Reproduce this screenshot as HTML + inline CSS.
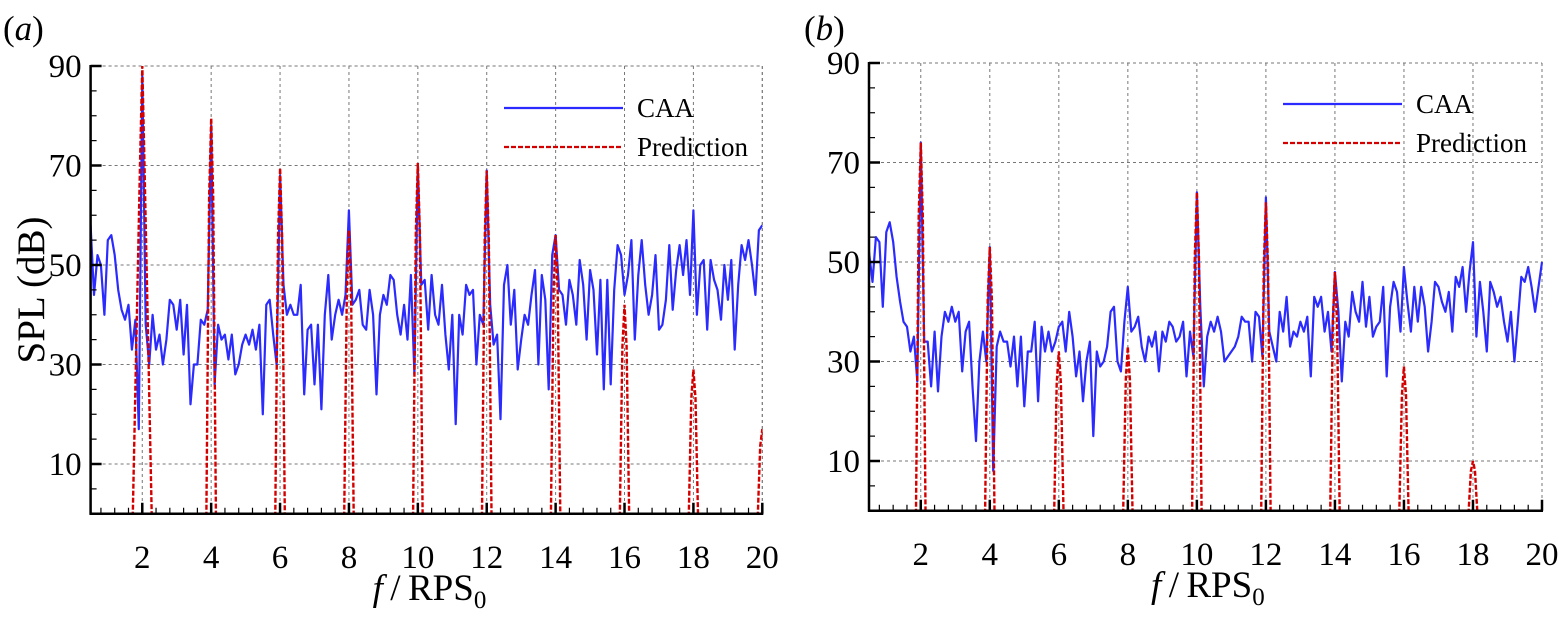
<!DOCTYPE html>
<html><head><meta charset="utf-8">
<style>
html,body{margin:0;padding:0;background:#fff;}
svg{display:block;font-family:"Liberation Serif",serif;}
</style></head>
<body>
<svg id="chart" width="1559" height="617" viewBox="0 0 1559 617" xmlns="http://www.w3.org/2000/svg">
<defs>
<clipPath id="clipA"><rect x="90.6" y="60" width="672" height="454"/></clipPath>
<clipPath id="clipB"><rect x="869" y="56" width="674" height="455"/></clipPath>
</defs>
</svg>
<script>
// ---- data ----
const xTickLabels = [2,4,6,8,10,12,14,16,18,20];
const yTickLabels = [10,30,50,70,90];
const freqStart = 0.5;
const freqStep = 0.1;
const caaA = [
58,44,52,50,40,55,56,52,45,41,
39,42,33,39,17,88,38,30,40,33,
36,30,35,43,42,37,43,32,42,22,
30,30,39,38,41,78,26,38,35,36,
31,36,28,30,34,36,34,37,33,38,
20,42,43,36,30,68,46,40,42,40,
40,46,24,37,38,26,38,21,40,48,
35,40,43,40,44,61,42,43,45,38,
37,45,40,24,40,44,42,48,47,40,
36,42,35,48,28,70,46,47,37,48,
40,38,46,36,29,40,18,40,36,46,
44,45,30,40,38,69,42,34,36,19,
46,50,38,45,29,35,40,38,44,49,
30,48,43,25,52,56,45,44,38,47,
44,38,51,46,35,49,45,32,47,25,
47,26,45,54,52,44,48,55,35,48,
55,46,40,44,52,37,38,43,54,41,
49,54,48,55,44,61,40,50,51,37,
51,47,45,39,50,43,51,33,46,54,
51,55,50,44,57,58];
const caaB = [
52,46,55,54,41,56,58,54,47,42,
38,37,32,35,26,74,34,34,25,36,
24,35,40,38,41,38,40,28,36,38,
25,14,30,36,30,53,8,33,36,34,
34,29,35,25,35,21,32,32,38,22,
37,32,36,32,34,37,38,32,40,35,
27,32,22,30,34,15,32,29,30,33,
40,41,30,28,38,45,36,37,39,33,
30,35,33,36,28,36,34,38,37,34,
35,38,27,36,31,64,41,25,35,38,
36,39,36,30,31,32,33,35,39,38,
38,30,40,39,31,63,36,33,30,40,
36,43,33,36,35,38,36,39,27,43,
41,43,36,40,32,48,40,26,38,35,
44,40,38,46,37,43,35,37,38,45,
27,41,46,44,36,49,42,36,45,38,
45,41,32,38,46,45,42,40,44,36,
47,45,49,40,48,54,35,46,40,32,
46,44,41,43,38,34,40,30,38,47,
46,49,45,40,45,50];
const predHarmonicsA = [2,4,6,8,10,12,14,16,18,20];
const predPeaksA = [90,79.5,69.5,57,70.5,69,56,42,29,17];
const predHarmonicsB = [2,4,6,8,10,12,14,16,18];
const predPeaksB = [74,53,32,33,64,62,48,29,10];

const NS = "http://www.w3.org/2000/svg";
const svg = document.getElementById('chart');
function mk(tag, attrs, parent){
  const e = document.createElementNS(NS, tag);
  for (const k in attrs) e.setAttribute(k, attrs[k]);
  (parent||svg).appendChild(e); return e;
}

function panel(cfg){
  const {left, right, top, bottom, letter, caa, harm, peaks, clip, legX, legY, leftW} = cfg;
  const xMin = 0.5, xMax = 20, yMin = 0, yMax = 90;
  const sx = v => left + (v - xMin) / (xMax - xMin) * (right - left);
  const sy = v => bottom - (v - yMin) / (yMax - yMin) * (bottom - top);
  const g = mk('g', {});
  
  

  for (const t of xTickLabels){
    const l = mk('line', {x1:sx(t), x2:sx(t), y1:top, y2:bottom, stroke:'#777', 'stroke-width':1, 'stroke-dasharray':'3,3'}, g);
    
    
  }
  for (const t of yTickLabels){
    const l = mk('line', {x1:left, x2:right, y1:sy(t), y2:sy(t), stroke:'#777', 'stroke-width':1, 'stroke-dasharray':'3,3'}, g);
    
    
  }
  const tb = mk('line', {x1:left, x2:right, y1:top, y2:top, stroke:'#777', 'stroke-width':1, 'stroke-dasharray':'3,3'}, g);
  
  
  const rb = mk('line', {x1:right, x2:right, y1:top, y2:bottom, stroke:'#777', 'stroke-width':1, 'stroke-dasharray':'3,3'}, g);
  
  

  const sg = mk('g', {'clip-path':'url(#'+clip+')'}, g);
  const pts = caa.map((v,i) => sx(freqStart + i*freqStep).toFixed(1) + ',' + sy(v).toFixed(1)).join(' ');
  const caaLine = mk('polyline', {points:pts, fill:'none', stroke:'#2b2bff', 'stroke-width':2.2, 'stroke-linejoin':'round'}, sg);
  
  
  harm.forEach((h,i) => {
    const p = peaks[i];
    const w = (letter === 'a' && h === 2) ? 0.28 : 0.14;
    const pp = [[h-w,-2],[h-0.06,p*0.8],[h,p],[h+0.06,p*0.8],[h+w,-2]]
      .map(q => sx(q[0]).toFixed(1)+','+sy(q[1]).toFixed(1)).join(' ');
    const pl = mk('polyline', {points:pp, fill:'none', stroke:'#d40000', 'stroke-width':2.4, 'stroke-dasharray':'5,2'}, sg);
    
    
  });

  const xa = mk('line', {x1:left-1, x2:right+1, y1:bottom, y2:bottom, stroke:'#000', 'stroke-width':2.5}, g);
  
  
  const ya = mk('line', {x1:left, x2:left, y1:top-1, y2:bottom+1, stroke:'#000', 'stroke-width':2.5}, g);
  
  
  for (let v = 0.8; v <= 20.01; v += 0.4){
    const major = xTickLabels.some(t => Math.abs(t - v) < 0.01);
    mk('line', {x1:sx(v), x2:sx(v), y1:bottom, y2:bottom-(major?11:6), stroke:'#000', 'stroke-width':major?2.5:1.2}, g);
  }
  for (let v = 5; v <= 90; v += 5){
    const major = yTickLabels.includes(v);
    mk('line', {x1:left, x2:left+(major?11:6), y1:sy(v), y2:sy(v), stroke:'#000', 'stroke-width':major?2.5:1.2}, g);
  }
  for (const t of xTickLabels){
    const tx = mk('text', {x:sx(t), y:bottom+54, 'font-size':33, 'text-anchor':'middle'}, g);
    tx.textContent = t;
    
    
  }
  for (const t of yTickLabels){
    const tx = mk('text', {x:left-9, y:sy(t)+11, 'font-size':33, 'text-anchor':'end'}, g);
    tx.textContent = t;
    
    
  }
  const xt = mk('text', {x:left + 282, y:bottom+86, 'font-size':37}, g);
  
  
  const f1 = mk('tspan', {'font-style':'italic'}, xt); f1.textContent = 'f';
  const f2 = mk('tspan', {}, xt); f2.textContent = '\u2009/\u2009RPS';
  const f3 = mk('tspan', {'font-size':25, dy:8}, xt); f3.textContent = '0';

  const pl = mk('text', {x:leftW, y:40, 'font-size':35}, g);
  
  
  const a1 = mk('tspan', {}, pl); a1.textContent = '(';
  const a2 = mk('tspan', {'font-style':'italic'}, pl); a2.textContent = letter;
  const a3 = mk('tspan', {}, pl); a3.textContent = ')';

  const lg = mk('g', {}, g);
  
  
  mk('line', {x1:legX, x2:legX+119, y1:legY, y2:legY, stroke:'#2b2bff', 'stroke-width':2.2}, lg);
  const t1 = mk('text', {x:legX+133, y:legY+9, 'font-size':27}, lg); t1.textContent = 'CAA';
  
  
  mk('line', {x1:legX, x2:legX+119, y1:legY+39, y2:legY+39, stroke:'#d40000', 'stroke-width':2.2, 'stroke-dasharray':'5,2'}, lg);
  const t2 = mk('text', {x:legX+133, y:legY+48, 'font-size':27}, lg); t2.textContent = 'Prediction';
  
  
}

panel({left:90.6, right:762.3, top:66, bottom:513.75, letter:'a', caa:caaA, harm:predHarmonicsA, peaks:predPeaksA, clip:'clipA', legX:504, legY:108, leftW:3});
panel({left:869, right:1542, top:63, bottom:510.75, letter:'b', caa:caaB, harm:predHarmonicsB, peaks:predPeaksB, clip:'clipB', legX:1283, legY:104, leftW:804});

const yl = mk('text', {x:0, y:0, 'font-size':39, 'text-anchor':'middle', transform:'translate(44,290) rotate(-90)'});
yl.textContent = 'SPL (dB)';


</script>
</body></html>
